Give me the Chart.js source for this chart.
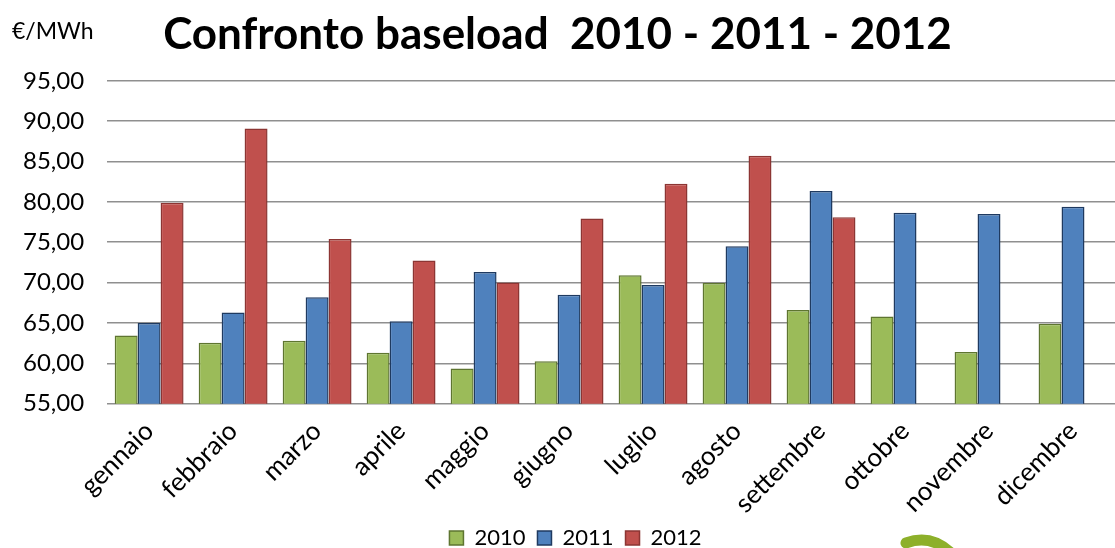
<!DOCTYPE html>
<html>
<head>
<meta charset="utf-8">
<script src="https://cdn.jsdelivr.net/npm/chart.js@4/dist/chart.umd.min.js"></script>
<style>
  html, body { margin: 0; padding: 0; background: #fff; }
  #wrap { width: 1115px; height: 548px; position: relative; }
</style>
</head>
<body>
<div id="wrap"><canvas id="bar"></canvas></div>
<script>
// mesi e prezzi baseload (€/MWh)
const mesi = ["gennaio", "febbraio", "marzo", "aprile", "maggio", "giugno",
    "luglio", "agosto", "settembre", "ottobre", "novembre", "dicembre"];
const anni = ["2010", "2011", "2012"];
const prezzi2010 = [63.45, 62.55, 62.80, 61.30, 59.35, 60.25, 70.90, 69.95, 66.60, 65.80, 61.40, 64.90];
const prezzi2011 = [65.00, 66.30, 68.20, 65.20, 71.30, 68.50, 69.70, 74.50, 81.35, 78.65, 78.50, 79.40];
const prezzi2012 = [79.90, 89.10, 75.40, 72.75, 70.00, 77.95, 82.25, 85.70, 78.10, null, null, null];
const yTicks = [55, 60, 65, 70, 75, 80, 85, 90, 95];

const FONT = "Lato, 'Open Sans', sans-serif";

// unità in alto a sinistra + pezzo di logo in basso
const extra = {
    id: 'extra',
    afterLayout(chart) {
        // legenda un po' più a destra e più su
        const lg = chart.legend;
        lg.left += 18;
        lg.right += 18;
        lg.top -= 8;
        lg.bottom -= 8;
    },
    afterDraw(chart) {
        const c = chart.ctx;
        c.save();
        c.font = "23px " + FONT;
        c.fillStyle = '#000';
        c.textBaseline = 'middle';
        c.fillText('€/MWh', 12, 32);

        c.strokeStyle = '#8DB02A';
        c.lineWidth = 11;
        c.lineCap = 'round';
        c.beginPath();
        c.moveTo(906, 543);
        c.quadraticCurveTo(930, 534, 950, 552);
        c.stroke();
        c.restore();
    }
};

const ctx = document.getElementById("bar").getContext("2d");

const barData = {
    labels: mesi,
    datasets: [
        {
            label: anni[0],
            data: prezzi2010,
            backgroundColor: '#9BBB59',
            borderColor: '#5E7530',
            borderWidth: 1.5
        },
        {
            label: anni[1],
            data: prezzi2011,
            backgroundColor: '#4F81BD',
            borderColor: '#1F3A60',
            borderWidth: 1.5
        },
        {
            label: anni[2],
            data: prezzi2012,
            backgroundColor: '#C0504D',
            borderColor: '#8C3533',
            borderWidth: 1.5
        }
    ]
};

const barOptions = {
    responsive: true,
    maintainAspectRatio: false,
    animation: false,
    layout: { padding: { left: 0, right: 0, top: 0, bottom: -19 } },
    datasets: { bar: { categoryPercentage: 0.82, barPercentage: 1.0 } },
    plugins: {
        title: {
            display: true,
            text: 'Confronto baseload  2010 - 2011 - 2012',
            color: '#000',
            font: { family: FONT, size: 44, weight: 'bold' },
            padding: { top: 8, bottom: 20 }
        },
        legend: {
            position: 'bottom',
            labels: {
                color: '#000',
                font: { family: FONT, size: 22 },
                boxWidth: 14,
                boxHeight: 14,
                padding: 12
            }
        },
        tooltip: { enabled: false }
    },
    scales: {
        x: {
            grid: { display: false },
            border: { display: false },
            ticks: {
                color: '#000',
                font: { family: FONT, size: 26 },
                minRotation: 45,
                maxRotation: 45,
                autoSkip: false,
                padding: 4
            }
        },
        y: {
            min: yTicks[0],
            max: yTicks[yTicks.length - 1],
            afterBuildTicks(axis) {
                axis.ticks = yTicks.map(v => ({ value: v }));
            },
            border: { display: false },
            grid: { color: '#8f8f8f', lineWidth: 1.5, drawTicks: false },
            ticks: {
                color: '#000',
                font: { family: FONT, size: 24 },
                padding: 23,
                callback: v => v.toFixed(2).replace('.', ',')
            }
        }
    }
};

new Chart(ctx, {
    type: 'bar',
    data: barData,
    options: barOptions,
    plugins: [extra]
});
</script>
</body>
</html>
